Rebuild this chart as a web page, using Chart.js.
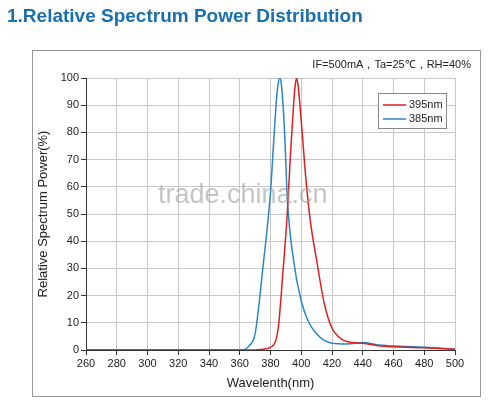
<!DOCTYPE html>
<html><head><meta charset="utf-8">
<script src="https://cdn.jsdelivr.net/npm/chart.js@4/dist/chart.umd.min.js"></script>
<style>html,body{margin:0;padding:0;background:#fff}#c{display:block}</style>
</head><body>
<canvas id="c" width="494" height="413"></canvas>
<script>
const wl395 = [260,370,375,380,385,388,391,393,395,396,397,398,399,401,403,406,410,415,420,425,430,440,450,460,480,500];
const val395 = [0,0,0.3,1,8,28,51,72,90,97,100,97,91,77,63,47,33,17,8,4.5,3,2.5,1.6,1.2,0.8,0.3];
const wl385 = [260,362,366,370,375,380,382,384,385,386,387,389,391,395,400,405,410,415,420,430,440,450,460,480,500];
const val385 = [0,0,1.5,6,30,58,76,93,98,100,98,82,55,33,18,10,6,3.5,2.5,2.2,2.8,1.8,1.5,1,0.3];
const xTicks = [260,280,300,320,340,360,380,400,420,440,460,480,500];
const yTicks = [0,10,20,30,40,50,60,70,80,90,100];
const seriesNames = ['395nm','385nm'];
const seriesColors = ['#e02020','#2b86c8'];
const toPts = (xs, ys) => xs.map((x,i)=>({x, y: ys[i]}));

const deco = {
  id:'deco',
  afterDraw(ch){
    const c = ch.ctx;
    c.save();
    c.fillStyle='#1a6fae'; c.font='bold 19px "Liberation Sans", Arial, sans-serif';
    c.textBaseline='middle'; c.textAlign='left';
    c.fillText('1.Relative Spectrum Power Distribution', 7, 17);
    c.strokeStyle='#999'; c.lineWidth=1;
    c.strokeRect(32.5, 50.5, 448, 346);
    c.fillStyle='#222'; c.font='11px "Liberation Sans", Arial, sans-serif';
    c.textAlign='right';
    c.fillText('IF=500mA，Ta=25℃，RH=40%', 471, 65);
    const lx=378, ly=93;
    c.fillStyle='#fff'; c.fillRect(lx,ly,68,35);
    c.strokeStyle='#888'; c.strokeRect(lx+0.5,ly+0.5,68,35);
    c.textAlign='left'; c.font='11px "Liberation Sans", Arial, sans-serif';
    seriesNames.forEach((n,i)=>{
      const yy = ly+12+i*14;
      c.strokeStyle=seriesColors[i]; c.lineWidth=1.5;
      c.beginPath(); c.moveTo(lx+5,yy); c.lineTo(lx+28,yy); c.stroke();
      c.fillStyle='#222'; c.fillText(n, lx+31, yy);
    });
    c.fillStyle='rgba(150,150,150,0.55)'; c.font='27px "Liberation Sans", Arial, sans-serif';
    c.fillText('trade.china.cn', 158, 196);
    c.restore();
  }
};

new Chart(document.getElementById('c'), {
  type:'line',
  data:{datasets:[
    {label:seriesNames[0], data:toPts(wl395,val395), borderColor:seriesColors[0], borderWidth:1.5, pointRadius:0, cubicInterpolationMode:'monotone', fill:false},
    {label:seriesNames[1], data:toPts(wl385,val385), borderColor:seriesColors[1], borderWidth:1.5, pointRadius:0, cubicInterpolationMode:'monotone', fill:false}
  ]},
  options:{
    responsive:false, animation:false,
    layout:{padding:{left:32,top:78,right:39,bottom:18}},
    plugins:{legend:{display:false}, tooltip:{enabled:false}},
    scales:{
      x:{type:'linear', min:260, max:500,
        afterBuildTicks:s=>{s.ticks=xTicks.map(v=>({value:v}));},
        afterFit:s=>{s.height=45;},
        grid:{color:'#c8c8c8', tickLength:5, tickColor:'#333'},
        border:{color:'#333'},
        ticks:{color:'#222', font:{size:11, family:'"Liberation Sans", Arial'}, maxRotation:0, padding:2},
        title:{display:true, text:'Wavelenth(nm)', color:'#222', font:{size:13, family:'"Liberation Sans", Arial'}, padding:{top:2}}
      },
      y:{min:0, max:100,
        afterBuildTicks:s=>{s.ticks=yTicks.map(v=>({value:v}));},
        afterFit:s=>{s.width=54;},
        grid:{color:'#c8c8c8', tickLength:5, tickColor:'#333'},
        border:{color:'#333'},
        ticks:{color:'#222', font:{size:11, family:'"Liberation Sans", Arial'}, padding:2},
        title:{display:true, text:'Relative Spectrum Power(%)', color:'#222', font:{size:13, family:'"Liberation Sans", Arial'}, padding:{bottom:2}}
      }
    }
  },
  plugins:[deco]
});
</script>
</body></html>
